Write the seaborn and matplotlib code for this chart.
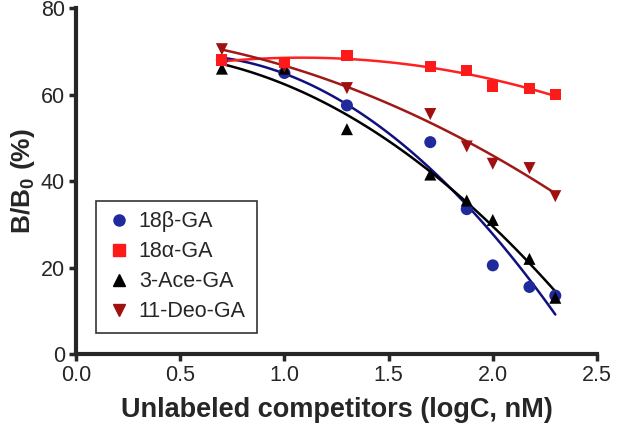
import numpy as np
import pandas as pd
import matplotlib
matplotlib.use("Agg")
import matplotlib.pyplot as plt
import seaborn as sns
from matplotlib.lines import Line2D

sns.set_style("ticks")
plt.rcParams['font.family'] = ['Liberation Sans', 'DejaVu Sans']

# log concentration of competitor
logc = [0.70, 1.00, 1.30, 1.70, 1.875, 2.00, 2.176, 2.30]

b18_beta = [68.0, 65.0, 57.5, 49.0, 33.5, 20.5, 15.5, 13.5]
b18_alpha = [68.0, 67.5, 69.0, 66.5, 65.5, 62.0, 61.5, 60.0]
ace3 = [66.0, 66.0, 52.0, 41.5, 35.5, 31.0, 22.0, 13.0]
deo11 = [70.5, 66.5, 61.5, 55.5, 48.0, 44.0, 43.0, 36.5]

labels = ["18\u03b2-GA", "18\u03b1-GA", "3-Ace-GA", "11-Deo-GA"]
series = [b18_beta, b18_alpha, ace3, deo11]
markers = ["o", "s", "^", "v"]
mcolors = ["#1f2a9c", "#ff1a1a", "#000000", "#a01010"]
lcolors = ["#101080", "#ff2020", "#000000", "#a01818"]

fig, ax = plt.subplots(figsize=(6.18, 4.28), dpi=100)
fig.subplots_adjust(left=0.123, right=0.966, bottom=0.173, top=0.981)

# fitted curves first
for vals, lc in zip(series, lcolors):
    df = pd.DataFrame({"x": logc, "y": vals})
    sns.regplot(data=df, x="x", y="y", order=2, ci=None, scatter=False,
                line_kws={"color": lc, "lw": 1.8}, truncate=True, ax=ax)

draw_order = [0, 2, 3, 1]
for i in draw_order:
    df = pd.DataFrame({"x": logc, "y": series[i]})
    sns.scatterplot(data=df, x="x", y="y", marker=markers[i], color=mcolors[i],
                    s=75 if markers[i] != "s" else 65, edgecolor="none", ax=ax, zorder=5)

ax.set_xlim(0, 2.5)
ax.set_ylim(0, 80)
ax.set_xticks([0.0, 0.5, 1.0, 1.5, 2.0, 2.5])
ax.set_xticklabels(["0.0", "0.5", "1.0", "1.5", "2.0", "2.5"])
ax.set_yticks([0, 20, 40, 60, 80])
ax.tick_params(axis="both", direction="out", length=5, width=2.5, labelsize=15.5, pad=3)
for side in ["left", "bottom"]:
    ax.spines[side].set_linewidth(3)
sns.despine(ax=ax)

ax.set_xlabel("Unlabeled competitors (logC, nM)", fontsize=19.5, fontweight="bold", labelpad=8)
ax.set_ylabel("B/B$_\\mathregular{0}$ (%)", fontsize=19, fontweight="bold", labelpad=3)

handles = [Line2D([], [], linestyle="none", marker=m, color=c, markersize=8)
           for m, c in zip(markers, mcolors)]
leg = ax.legend(handles, labels, loc="lower left", bbox_to_anchor=(0.038, 0.06),
                fontsize=15.5, frameon=True, fancybox=False, framealpha=1,
                edgecolor="#333333", handletextpad=0.3, handlelength=1.2,
                borderpad=0.5, labelspacing=0.42, borderaxespad=0)
leg.get_frame().set_linewidth(1.2)

plt.savefig("out.png", dpi=100)
